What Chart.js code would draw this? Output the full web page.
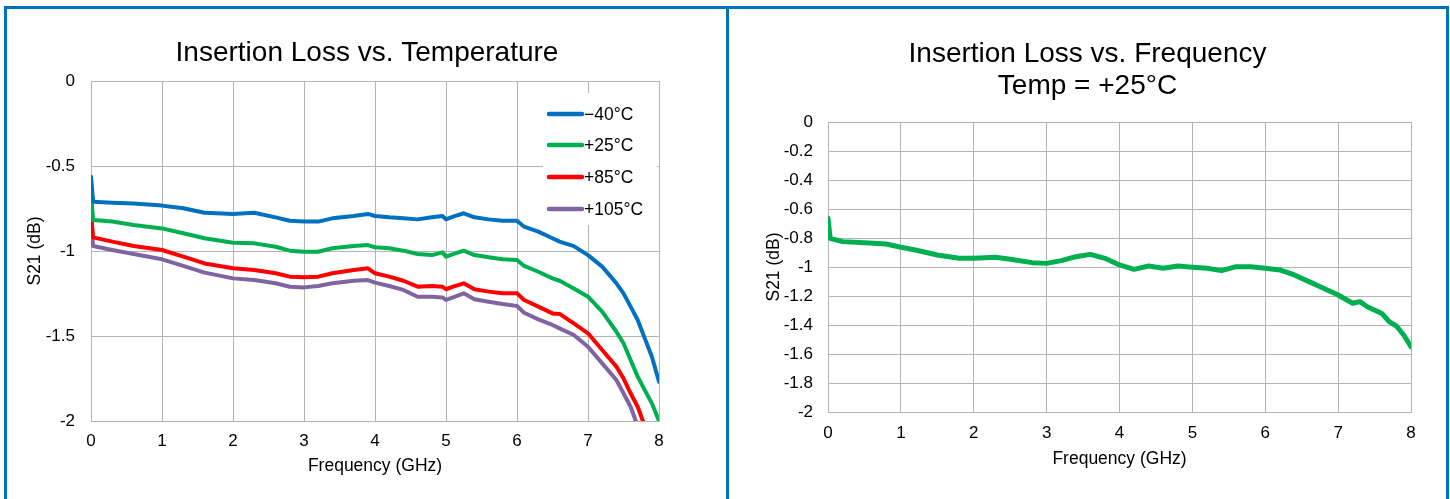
<!DOCTYPE html>
<html>
<head>
<meta charset="utf-8">
<script src="https://cdn.jsdelivr.net/npm/chart.js@4"></script>
<style>
  html, body { margin: 0; padding: 0; background: #ffffff; width: 1450px; height: 499px; overflow: hidden; }
  canvas { position: absolute; top: 0; }
  #c1 { left: 0; }
  #c2 { left: 729px; }
  .panel { position: absolute; pointer-events: none; box-sizing: border-box; border-style: solid; border-color: #0070C0; }
  #p1 { left: 4px; top: 6px; width: 725px; height: 600px; border-width: 3px 3px 0 3px; }
  #p2 { left: 729px; top: 6px; width: 720px; height: 600px; border-width: 3px 3px 0 0; }
</style>
</head>
<body>
<canvas id="c1" width="726" height="499"></canvas>
<canvas id="c2" width="717" height="499"></canvas>
<div class="panel" id="p1"></div>
<div class="panel" id="p2"></div>
<script>
// ---------- Data: left chart (Insertion Loss vs. Temperature) ----------
const freqTemp = [0, 0.03, 0.3, 0.6, 1.0, 1.3, 1.6, 2.0, 2.3, 2.6, 2.8, 3.0, 3.2, 3.4, 3.7, 3.9, 4.0, 4.2, 4.4, 4.6, 4.8, 4.95, 5.0, 5.1, 5.25, 5.4, 5.6, 5.8, 6.0, 6.1, 6.3, 6.5, 6.6, 6.8, 7.0, 7.2, 7.4, 7.5, 7.6, 7.7, 7.8, 7.9, 8.0];
const tempLabels = ['\u221240\u00B0C', '+25\u00B0C', '+85\u00B0C', '+105\u00B0C'];
const lossM40 = [-0.563, -0.71, -0.716, -0.72, -0.733, -0.749, -0.775, -0.782, -0.775, -0.802, -0.822, -0.827, -0.827, -0.808, -0.794, -0.782, -0.794, -0.802, -0.808, -0.814, -0.802, -0.794, -0.814, -0.798, -0.778, -0.802, -0.814, -0.822, -0.822, -0.857, -0.886, -0.925, -0.945, -0.971, -1.024, -1.092, -1.19, -1.249, -1.327, -1.406, -1.514, -1.622, -1.769];
const lossP25 = [-0.661, -0.818, -0.827, -0.847, -0.867, -0.896, -0.925, -0.951, -0.955, -0.975, -0.998, -1.004, -1.004, -0.984, -0.971, -0.965, -0.978, -0.984, -0.998, -1.018, -1.024, -1.008, -1.033, -1.018, -0.998, -1.024, -1.037, -1.049, -1.053, -1.088, -1.122, -1.161, -1.175, -1.22, -1.269, -1.357, -1.475, -1.543, -1.641, -1.739, -1.818, -1.896, -2.0];
const lossP85 = [-0.778, -0.92, -0.945, -0.971, -0.994, -1.033, -1.073, -1.102, -1.112, -1.131, -1.151, -1.155, -1.151, -1.131, -1.112, -1.102, -1.131, -1.151, -1.175, -1.21, -1.206, -1.21, -1.225, -1.21, -1.19, -1.225, -1.239, -1.249, -1.249, -1.288, -1.327, -1.367, -1.37, -1.426, -1.484, -1.582, -1.68, -1.749, -1.837, -1.916, -2.03, null, null];
const lossP105 = [-0.818, -0.971, -0.994, -1.018, -1.049, -1.088, -1.127, -1.161, -1.171, -1.19, -1.21, -1.214, -1.206, -1.19, -1.175, -1.171, -1.186, -1.206, -1.229, -1.269, -1.269, -1.273, -1.288, -1.273, -1.249, -1.284, -1.298, -1.312, -1.324, -1.363, -1.402, -1.435, -1.455, -1.494, -1.563, -1.661, -1.759, -1.837, -1.916, -2.03, null, null, null];

// ---------- Data: right chart (Insertion Loss vs. Frequency, +25°C) ----------
const freqRoom = [0, 0.03, 0.2, 0.5, 0.8, 1.0, 1.2, 1.5, 1.8, 2.0, 2.3, 2.5, 2.8, 3.0, 3.2, 3.4, 3.6, 3.8, 4.0, 4.2, 4.4, 4.6, 4.8, 5.0, 5.2, 5.4, 5.6, 5.8, 6.0, 6.2, 6.4, 6.6, 6.8, 7.0, 7.2, 7.3, 7.4, 7.6, 7.7, 7.8, 7.9, 8.0];
const lossRoom = [-0.664, -0.802, -0.825, -0.832, -0.841, -0.864, -0.883, -0.917, -0.94, -0.94, -0.933, -0.947, -0.97, -0.975, -0.956, -0.929, -0.913, -0.94, -0.986, -1.016, -0.993, -1.009, -0.993, -1.002, -1.009, -1.025, -0.998, -0.998, -1.009, -1.02, -1.055, -1.101, -1.147, -1.193, -1.25, -1.239, -1.274, -1.32, -1.377, -1.407, -1.469, -1.55];

const xTickValues = [0, 1, 2, 3, 4, 5, 6, 7, 8];

const colors = ['#0070C0', '#00B050', '#FF0000', '#8064A2'];
const gridColor = '#b4b4b4';
const FONT = "'Liberation Sans', Arial, sans-serif";

function pts(xs, ys) { return xs.map((x, i) => ({ x: x, y: ys[i] })); }
function fmt(v) { const n = Number(v.toFixed(1)); return String(n === 0 ? 0 : n); }

// legend drawn inside plot area on a white box (left chart)
const insideLegend = {
  id: 'insideLegend',
  beforeDatasetsDraw(chart, args, opts) {
    if (!opts || !opts.show) return;
    const ctx = chart.ctx, ca = chart.chartArea;
    const boxW = 114, boxH = 132;
    const bx = ca.right - boxW - 2, by = ca.top + 12;
    ctx.save();
    ctx.fillStyle = '#ffffff';
    ctx.fillRect(bx, by, boxW, boxH);
    const rows = [21, 52, 84, 116];
    chart.data.datasets.forEach((ds, i) => {
      const y = by + rows[i];
      ctx.strokeStyle = ds.borderColor;
      ctx.lineWidth = 4.5;
      ctx.lineCap = 'round';
      ctx.beginPath();
      ctx.moveTo(bx + 6, y);
      ctx.lineTo(bx + 39, y);
      ctx.stroke();
      ctx.fillStyle = '#000000';
      ctx.font = '17.5px ' + FONT;
      ctx.textBaseline = 'middle';
      ctx.textAlign = 'left';
      ctx.fillText(ds.label, bx + 41, y + 1);
    });
    ctx.restore();
  }
};

function baseOptions(cfg) {
  return {
    responsive: false,
    animation: false,
    devicePixelRatio: 1,
    layout: { padding: { left: cfg.padLeft, right: 0, top: 0, bottom: 0 } },
    plugins: {
      legend: { display: false },
      tooltip: { enabled: false },
      title: {
        display: true,
        text: cfg.title,
        color: '#000000',
        font: { family: FONT, size: 28, weight: 'normal', lineHeight: cfg.titleLH },
        padding: { top: cfg.titleTop, bottom: cfg.titleBottom }
      },
      insideLegend: { show: cfg.legend }
    },
    elements: { point: { radius: 0 }, line: { tension: 0, borderCapStyle: 'round', borderJoinStyle: 'round' } },
    scales: {
      x: {
        type: 'linear', min: 0, max: 8,
        afterBuildTicks: s => { s.ticks = xTickValues.map(v => ({ value: v })); },
        afterFit: s => { s.height = cfg.xHeight; },
        grid: { color: gridColor, lineWidth: 1, drawTicks: false },
        border: { color: gridColor, width: 1 },
        ticks: { color: '#000000', padding: cfg.xTickPad, font: { family: FONT, size: 17 }, maxRotation: 0 },
        title: { display: true, text: 'Frequency (GHz)', color: '#000000', font: { family: FONT, size: 17.5 }, padding: { top: 0, bottom: cfg.xTitlePad } }
      },
      y: {
        type: 'linear', position: 'left', min: -2, max: 0,
        afterBuildTicks: s => { s.ticks = cfg.yTicks.map(v => ({ value: v })); },
        afterFit: s => { s.width = cfg.yWidth; },
        grid: { color: gridColor, lineWidth: 1, drawTicks: false },
        border: { color: gridColor, width: 1 },
        ticks: { color: '#000000', padding: cfg.yTickPad, font: { family: FONT, size: 17 }, callback: v => fmt(v) },
        title: { display: true, text: 'S21 (dB)', color: '#000000', font: { family: FONT, size: 17.5 }, padding: { top: cfg.yTitlePad, bottom: 0 } }
      },
      yPad: {
        type: 'linear', position: 'right', min: 0, max: 1, display: true,
        afterFit: s => { s.width = cfg.rightGap; },
        grid: { display: false, drawTicks: false },
        border: { display: false },
        ticks: { display: false },
        title: { display: false }
      }
    }
  };
}

// Left chart
new Chart(document.getElementById('c1'), {
  type: 'line',
  data: {
    datasets: [lossM40, lossP25, lossP85, lossP105].map((vals, i) => ({
      label: tempLabels[i],
      data: pts(freqTemp, vals),
      borderColor: colors[i],
      backgroundColor: colors[i],
      borderWidth: 4,
      fill: false,
      spanGaps: false,
      yAxisID: 'y'
    }))
  },
  options: baseOptions({
    padLeft: 8, yWidth: 83, rightGap: 67, xHeight: 78,
    title: 'Insertion Loss vs. Temperature', titleLH: 1.2, titleTop: 36.7, titleBottom: 10.7,
    yTicks: [-2, -1.5, -1, -0.5, 0], xTickPad: 10.5, yTickPad: 16, xTitlePad: 22, yTitlePad: 16.5,
    legend: true
  }),
  plugins: [insideLegend]
});

// Right chart
new Chart(document.getElementById('c2'), {
  type: 'line',
  data: {
    datasets: [{
      label: '+25\u00B0C',
      data: pts(freqRoom, lossRoom),
      borderColor: colors[1],
      backgroundColor: colors[1],
      borderWidth: 5,
      fill: false,
      yAxisID: 'y'
    }]
  },
  options: baseOptions({
    padLeft: 0, yWidth: 99, rightGap: 35, xHeight: 87,
    title: ['Insertion Loss vs. Frequency', 'Temp = +25\u00B0C'], titleLH: 1.15, titleTop: 37.7, titleBottom: 19.9,
    yTicks: [-2, -1.8, -1.6, -1.4, -1.2, -1, -0.8, -0.6, -0.4, -0.2, 0], xTickPad: 11, yTickPad: 15, xTitlePad: 29.5, yTitlePad: 35,
    legend: false
  }),
  plugins: [insideLegend]
});
</script>
</body>
</html>
